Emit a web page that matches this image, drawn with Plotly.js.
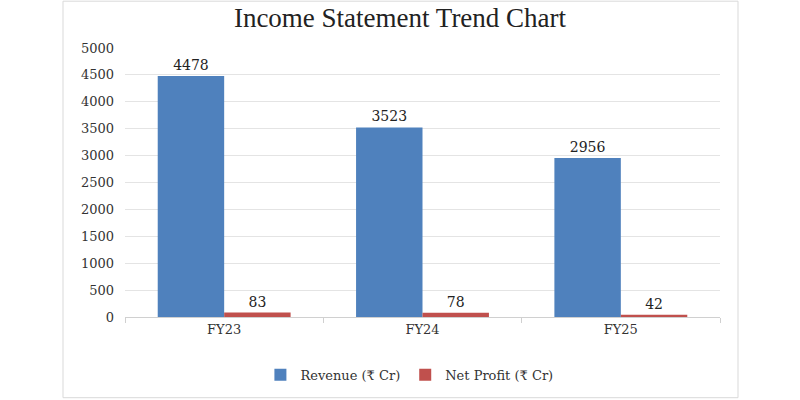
<!DOCTYPE html>
<html>
<head>
<meta charset="utf-8">
<script src="https://cdn.plot.ly/plotly-3.0.1.min.js"></script>
<style>html,body{margin:0;padding:0;background:#fff;}#chart{width:800px;height:400px;}</style>
</head>
<body>
<div id="chart"></div>
<script>
var categories = ["FY23", "FY24", "FY25"];
var revenue = [4478, 3523, 2956];
var netProfit = [83, 78, 42];
var seriesNames = ["Revenue (₹ Cr)", "Net Profit (₹ Cr)"];

var font = "DejaVu Serif, Liberation Serif, serif";
var titleFont = "Liberation Serif, DejaVu Serif, serif";
var traces = [
  {type: "bar", x: categories, y: revenue, name: seriesNames[0],
   marker: {color: "#4f81bd"}, text: revenue.map(String), textposition: "outside",
   textfont: {family: font, size: 14, color: "#222"}, cliponaxis: false},
  {type: "bar", x: categories, y: netProfit, name: seriesNames[1],
   marker: {color: "#c0504d"}, text: netProfit.map(String), textposition: "outside",
   textfont: {family: font, size: 14, color: "#222"}, cliponaxis: false}
];
var layout = {
  width: 800, height: 400,
  margin: {l: 125, r: 80, t: 48, b: 82},
  paper_bgcolor: "#fff", plot_bgcolor: "#fff",
  font: {family: font, size: 13, color: "#333"},
  title: {text: "Income Statement Trend Chart", x: 0.5, xref: "container", y: 0.955, yanchor: "middle",
          font: {family: titleFont, size: 27, color: "#222"}},
  barmode: "group", bargap: 0.33, bargroupgap: 0,
  xaxis: {type: "category", showline: true, linecolor: "#d0d0d0", linewidth: 1,
          ticks: "outside", tickson: "boundaries", ticklen: 5, tickcolor: "#d0d0d0",
          tickfont: {family: font, size: 13, color: "#333"}, showgrid: false},
  yaxis: {range: [0, 5000], dtick: 500, showgrid: true, gridcolor: "#e4e4e4",
          zeroline: false, showline: false, ticks: "", ticklabelstandoff: 10,
          tickfont: {family: font, size: 13, color: "#333"}},
  legend: {orientation: "h", x: 0.478, xanchor: "center", y: -0.21, yanchor: "middle",
           itemwidth: 30, font: {family: font, size: 13, color: "#333"}},
  showlegend: true,
  shapes: [{type: "rect", xref: "paper", yref: "paper",
            x0: (63 - 125) / 595, x1: (738 - 125) / 595,
            y0: (318 - 399) / 270, y1: (318 - 1) / 270,
            line: {color: "#d9d9d9", width: 1}, fillcolor: "rgba(0,0,0,0)", layer: "below"}]
};
Plotly.newPlot("chart", traces, layout, {displayModeBar: false, staticPlot: true});
</script>
</body>
</html>
